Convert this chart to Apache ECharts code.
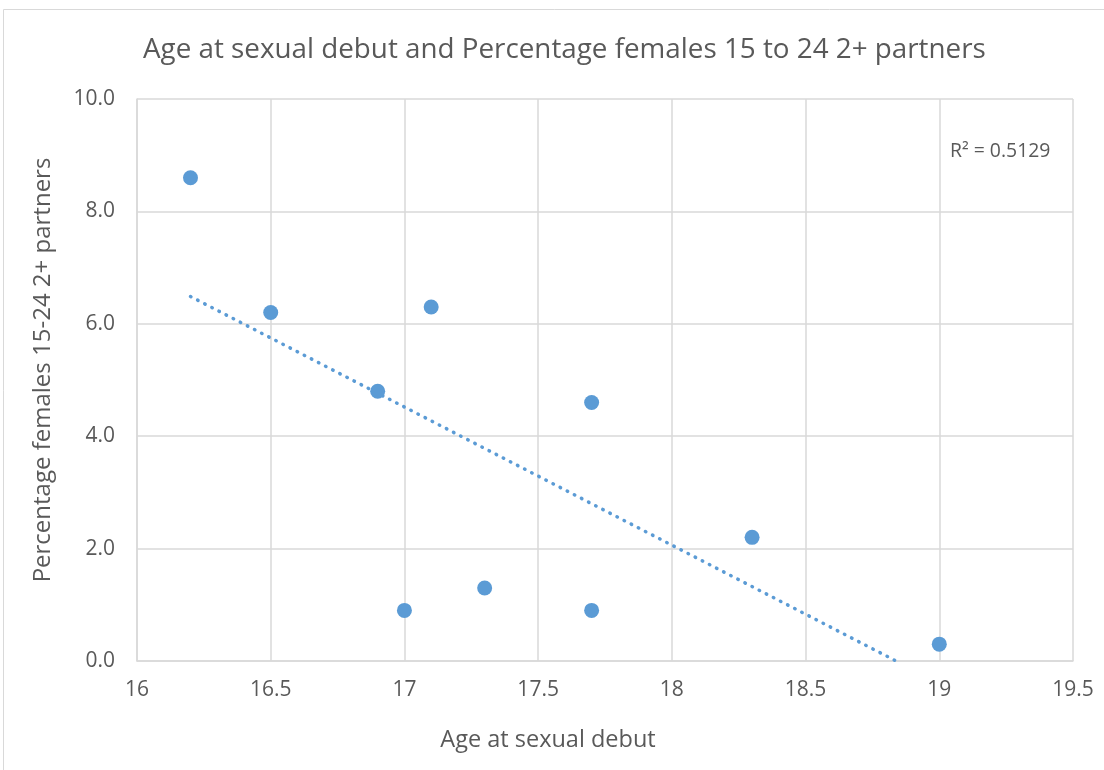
<!DOCTYPE html>
<html>
<head>
    <meta charset="utf-8">
    <script src="https://cdn.jsdelivr.net/npm/echarts@6/dist/echarts.min.js"></script>
    <style type="text/css">
        html, body { width: 100%; height: 100%; margin: 0; background: #fff; }
        #chart { width: 1104px; height: 770px; }
    </style>
</head>
<body>
<div id="chart"></div>
<script type="text/javascript">
    // 数据
    var ageDebut = [16.2, 16.5, 16.9, 17.0, 17.1, 17.3, 17.7, 17.7, 18.3, 19.0];
    var pctPartners = [8.6, 6.2, 4.8, 0.9, 6.3, 1.3, 4.6, 0.9, 2.2, 0.3];
    var rSquaredText = 'R² = 0.5129';

    var points = ageDebut.map(function (x, i) { return [x, pctPartners[i]]; });

    // 线性趋势线（最小二乘），在 y=0 处截断
    var n = ageDebut.length, mx = 0, my = 0;
    for (var i = 0; i < n; i++) { mx += ageDebut[i]; my += pctPartners[i]; }
    mx /= n; my /= n;
    var sxy = 0, sxx = 0;
    for (var i = 0; i < n; i++) {
        sxy += (ageDebut[i] - mx) * (pctPartners[i] - my);
        sxx += (ageDebut[i] - mx) * (ageDebut[i] - mx);
    }
    var slope = sxy / sxx, icpt = my - slope * mx;
    var xMin = Math.min.apply(null, ageDebut), xMax = Math.max.apply(null, ageDebut);
    var xEnd = Math.min(xMax, -icpt / slope);
    var trend = [[xMin, slope * xMin + icpt], [xEnd, slope * xEnd + icpt]];

    var font = 'Open Sans';
    var txt = '#595959';
    var myChart = echarts.init(document.getElementById('chart'));
    myChart.setOption({
        animation: false,
        backgroundColor: '#fff',
        title: {
            text: 'Age at sexual debut and Percentage females 15 to 24 2+ partners',
            left: 138, top: 31,
            textStyle: { fontFamily: font, fontSize: 27.8, fontWeight: 'normal', color: txt }
        },
        graphic: [
            { type: 'rect', shape: { x: 3.5, y: 9.5, width: 1110, height: 770 },
              style: { fill: 'none', stroke: '#D9D9D9', lineWidth: 1 }, silent: true },
            { type: 'text', left: 950, top: 142,
              style: { text: rSquaredText, fontFamily: font, fontSize: 19.4, fill: txt } }
        ],
        grid: { left: 137, top: 99, right: 31, bottom: 109 },
        xAxis: {
            type: 'value', min: 16, max: 19.5, interval: 0.5,
            name: 'Age at sexual debut', nameLocation: 'middle', nameGap: 67,
            nameTextStyle: { fontFamily: font, fontSize: 23.5, color: txt, padding: [0, 114, 0, 0] },
            axisLine: { show: true, lineStyle: { color: '#D9D9D9', width: 1.5 } },
            axisTick: { show: false },
            axisLabel: { fontFamily: font, fontSize: 21, color: txt, margin: 19 },
            splitLine: { show: true, lineStyle: { color: '#D9D9D9', width: 1.5 } }
        },
        yAxis: {
            type: 'value', min: 0, max: 10, interval: 2,
            name: 'Percentage females 15-24 2+ partners', nameLocation: 'middle', nameGap: 82,
            nameTextStyle: { fontFamily: font, fontSize: 24, color: txt, padding: [0, 0, 0, 20] },
            axisLine: { show: true, lineStyle: { color: '#D9D9D9', width: 1.5 } },
            axisTick: { show: false },
            axisLabel: { fontFamily: font, fontSize: 21, color: txt, margin: 22,
                formatter: function (v) { return v.toFixed(1); } },
            splitLine: { show: true, lineStyle: { color: '#D9D9D9', width: 1.5 } }
        },
        series: [
            {
                type: 'line', data: trend, symbol: 'none', silent: true,
                lineStyle: { color: '#5B9BD5', width: 3.5, type: [0.5, 7.5], cap: 'round' },
                z: 1
            },
            {
                type: 'scatter', data: points, symbolSize: 15,
                itemStyle: { color: '#5B9BD5', opacity: 1 }, z: 2
            }
        ]
    });
</script>
</body>
</html>
